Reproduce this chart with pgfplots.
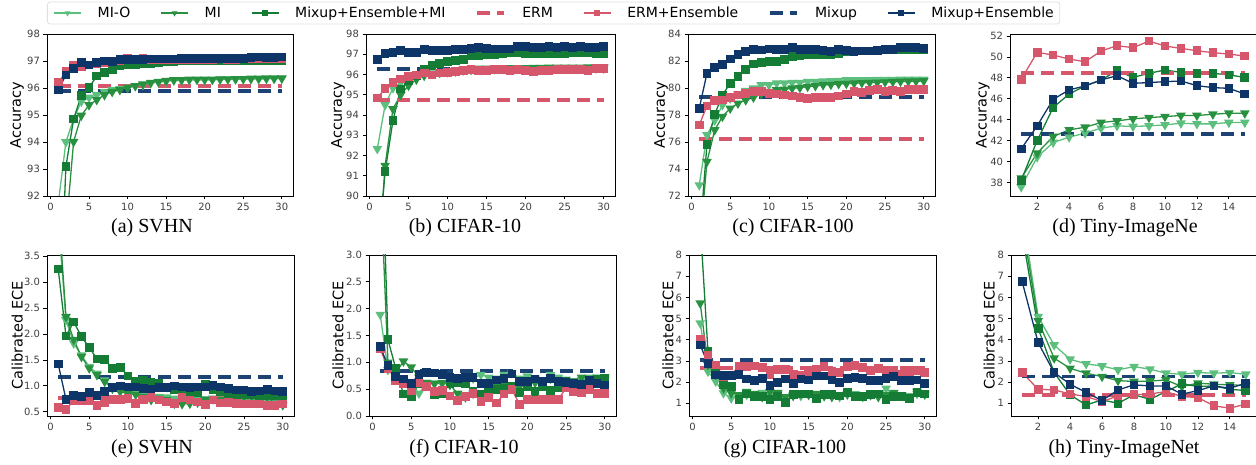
\documentclass[border=0pt]{standalone}
\usepackage{fontspec}
\setmainfont{DejaVu Sans}
\newfontfamily\capfont{Liberation Serif}
\usepackage{pgfplots}
\usepackage{pgfplotstable}
\pgfplotsset{compat=1.18}

\definecolor{cmio}{HTML}{5CBF7D}
\definecolor{cmi}{HTML}{28913F}
\definecolor{cmemi}{HTML}{157C36}
\definecolor{cerm}{HTML}{D6566B}
\definecolor{cmix}{HTML}{1D4274}
\definecolor{cmixe}{HTML}{0E3568}

% SVHN accuracy
\pgfplotstableread{
e mio mi memi erme mixe
1 91.7 85 86 96.2 95.93
2 94.0 90.7 93.09 96.6 96.48
3 94.85 94.01 94.85 96.85 96.73
4 95.5 94.98 95.72 96.8 96.94
5 95.65 95.37 96.02 96.85 96.85
6 95.74 95.56 96.44 96.9 96.95
7 95.86 95.74 96.58 96.95 97.0
8 95.93 95.86 96.69 97.0 96.97
9 95.97 95.93 96.81 97.0 97.05
10 96.02 96.01 96.85 97.1 97.05
11 96.07 96.08 96.85 97.05 97.05
12 96.12 96.14 96.9 97.1 97.05
13 96.18 96.2 96.92 97.05 97.07
14 96.22 96.23 96.95 97.05 97.07
15 96.25 96.27 96.97 97.05 97.07
16 96.28 96.3 96.98 97.05 97.07
17 96.28 96.3 97.0 97.05 97.08
18 96.3 96.32 97.0 97.05 97.08
19 96.3 96.32 97.0 97.05 97.08
20 96.3 96.32 97.0 97.05 97.08
21 96.3 96.32 97.0 97.05 97.08
22 96.32 96.33 97.0 97.1 97.08
23 96.32 96.33 97.0 97.05 97.08
24 96.32 96.34 97.0 97.05 97.1
25 96.33 96.34 97.0 97.1 97.1
26 96.33 96.35 97.02 97.1 97.12
27 96.33 96.35 97.02 97.1 97.15
28 96.34 96.36 97.02 97.1 97.12
29 96.34 96.36 97.03 97.1 97.12
30 96.35 96.36 97.03 97.1 97.15
}\dA

% CIFAR-10 accuracy
\pgfplotstableread{
e mio mi memi erme mixe
1 92.33 86 86.8 94.84 96.75
2 94.5 91.5 91.2 95.3 97.05
3 95.33 94.3 93.72 95.6 97.1
4 95.6 95.0 95.28 95.77 97.18
5 95.75 95.45 95.69 95.9 97.1
6 95.85 95.75 95.93 95.98 97.1
7 95.95 95.95 96.23 96.07 97.25
8 96.05 96.05 96.43 95.98 97.18
9 96.1 96.1 96.56 96.07 97.18
10 96.12 96.15 96.64 96.11 97.2
11 96.15 96.2 96.69 96.15 97.25
12 96.2 96.25 96.75 96.18 97.25
13 96.22 96.28 96.93 96.23 97.3
14 96.25 96.3 96.93 96.2 97.33
15 96.25 96.3 96.97 96.2 97.3
16 96.27 96.32 97.0 96.23 97.26
17 96.27 96.32 97.05 96.23 97.26
18 96.28 96.33 97.08 96.2 97.26
19 96.28 96.33 97.1 96.26 97.38
20 96.28 96.33 97.05 96.2 97.38
21 96.3 96.34 97.05 96.15 97.33
22 96.3 96.34 97.05 96.2 97.35
23 96.3 96.35 97.05 96.2 97.38
24 96.3 96.35 97.05 96.26 97.33
25 96.3 96.35 97.05 96.26 97.38
26 96.3 96.35 97.08 96.26 97.35
27 96.3 96.35 97.08 96.23 97.38
28 96.3 96.36 97.08 96.2 97.33
29 96.3 96.36 97.05 96.28 97.35
30 96.3 96.36 97.05 96.28 97.38
}\dB

% CIFAR-100 accuracy
\pgfplotstableread{
e mio mi memi erme mixe
1 72.81 68 68.5 77.26 78.49
2 76.52 74.54 75.83 78.67 81.09
3 77.6 76.89 78.05 79.06 81.5
4 78.74 77.88 79.48 79.1 81.75
5 79.23 78.49 80.35 79.3 82.15
6 79.56 78.86 80.84 79.48 82.5
7 79.8 79.1 81.38 79.6 82.7
8 79.98 79.3 81.78 79.73 82.86
9 80.22 79.56 81.9 79.73 82.82
10 80.22 79.73 81.95 79.6 82.89
11 80.35 79.85 81.95 79.56 82.86
12 80.35 79.9 82.12 79.48 82.86
13 80.4 79.98 82.32 79.4 83.0
14 80.4 80.02 82.4 79.3 82.86
15 80.47 80.1 82.44 79.23 82.86
16 80.47 80.15 82.44 79.28 82.86
17 80.5 80.22 82.49 79.3 82.77
18 80.52 80.25 82.49 79.28 82.7
19 80.55 80.3 82.57 79.4 82.86
20 80.6 80.32 82.69 79.56 82.77
21 80.6 80.35 82.74 79.73 82.7
22 80.6 80.38 82.74 79.65 82.75
23 80.6 80.4 82.74 79.8 82.75
24 80.62 80.42 82.77 79.9 82.77
25 80.62 80.44 82.81 79.73 82.86
26 80.62 80.46 82.81 79.8 82.86
27 80.63 80.48 82.86 79.73 83.0
28 80.63 80.5 82.86 79.9 83.0
29 80.64 80.5 82.86 79.9 83.0
30 80.64 80.52 82.86 79.9 82.95
}\dC

% Tiny-ImageNet accuracy
\pgfplotstableread{
e mio mi memi erme mixe
1 37.56 38.41 38.19 47.86 41.21
2 40.42 40.8 42.0 50.44 43.4
3 41.82 42.39 45.16 50.19 45.95
4 42.33 43.03 46.46 49.8 46.85
5 42.71 43.28 47.23 49.55 47.23
6 43.19 43.73 47.8 50.57 47.8
7 43.41 43.89 48.69 51.08 48.21
8 43.35 44.08 48.05 50.89 47.48
9 43.41 44.2 48.44 51.52 47.55
10 43.5 44.3 48.75 51.05 47.64
11 43.66 44.4 48.53 50.82 47.7
12 43.6 44.4 48.44 50.6 47.26
13 43.6 44.52 48.44 50.41 47.07
14 43.73 44.62 48.28 50.28 47.0
15 43.73 44.62 48.05 50.09 46.46
}\dD

% SVHN ECE
\pgfplotstableread{
e mio mi memi erme mixe
1 4.2 4.5 3.25 0.58 1.42
2 2.27 2.33 1.96 0.55 0.74
3 1.82 1.89 2.23 0.71 0.82
4 1.59 1.56 1.95 0.71 0.79
5 1.37 1.34 1.74 0.71 0.87
6 1.24 1.21 1.52 0.62 0.82
7 1.11 1.08 1.51 0.67 0.89
8 0.98 0.95 1.34 0.74 0.97
9 0.93 0.89 1.36 0.74 1.0
10 0.89 0.85 1.19 0.76 0.98
11 0.85 0.83 1.08 0.66 0.98
12 0.82 0.79 1.1 0.74 0.95
13 0.79 0.73 1.06 0.78 0.94
14 0.79 0.76 1.05 0.73 0.97
15 0.78 0.73 0.98 0.69 0.97
16 0.76 0.66 0.92 0.66 1.0
17 0.76 0.65 0.89 0.77 0.98
18 0.75 0.66 0.87 0.73 0.97
19 0.75 0.68 0.87 0.69 0.98
20 0.75 0.73 1.03 0.64 0.98
21 0.74 0.76 0.93 0.73 1.01
22 0.74 0.73 0.89 0.67 0.98
23 0.74 0.74 0.85 0.68 0.95
24 0.74 0.76 0.82 0.66 0.92
25 0.74 0.79 0.83 0.65 0.92
26 0.74 0.79 0.83 0.65 0.89
27 0.73 0.79 0.82 0.65 0.9
28 0.73 0.79 0.81 0.62 0.93
29 0.73 0.66 0.81 0.62 0.9
30 0.73 0.63 0.82 0.65 0.89
}\dE

% CIFAR-10 ECE
\pgfplotstableread{
e mio mi memi erme mixe
1 1.89 4.5 6.0 1.25 1.29
2 0.86 1.0 1.42 0.89 0.94
3 0.75 0.8 0.89 0.66 0.74
4 0.65 1.02 0.41 0.61 0.69
5 0.6 0.91 0.36 0.47 0.61
6 0.42 0.72 0.6 0.62 0.77
7 0.62 0.62 0.55 0.55 0.81
8 0.61 0.6 0.39 0.46 0.8
9 0.6 0.62 0.41 0.47 0.77
10 0.65 0.58 0.6 0.37 0.72
11 0.7 0.42 0.62 0.29 0.7
12 0.72 0.35 0.61 0.36 0.72
13 0.7 0.42 0.45 0.42 0.72
14 0.77 0.4 0.4 0.27 0.61
15 0.72 0.48 0.46 0.35 0.6
16 0.7 0.55 0.49 0.24 0.67
17 0.77 0.58 0.52 0.41 0.7
18 0.8 0.52 0.55 0.49 0.78
19 0.7 0.55 0.44 0.22 0.64
20 0.74 0.6 0.55 0.31 0.64
21 0.7 0.62 0.46 0.3 0.69
22 0.65 0.6 0.55 0.31 0.64
23 0.77 0.7 0.47 0.31 0.7
24 0.72 0.65 0.52 0.31 0.64
25 0.68 0.62 0.64 0.52 0.62
26 0.65 0.65 0.61 0.46 0.6
27 0.68 0.72 0.55 0.44 0.59
28 0.72 0.7 0.67 0.5 0.66
29 0.7 0.72 0.69 0.42 0.61
30 0.68 0.72 0.7 0.42 0.58
}\dF

% CIFAR-100 ECE
\pgfplotstableread{
e mio mi memi erme mixe
1 4.78 5.72 9.5 4.02 3.75
2 2.5 2.81 3.44 3.28 2.86
3 2.03 2.34 2.5 2.81 2.34
4 1.48 1.71 1.87 2.26 2.3
5 1.24 1.48 1.79 2.34 2.3
6 1.3 1.4 1.19 2.76 2.35
7 1.4 1.55 1.44 2.73 2.14
8 1.35 1.45 1.32 2.76 2.07
9 1.5 1.3 1.32 2.69 2.18
10 1.35 1.55 1.19 2.37 1.84
11 1.45 1.5 1.32 2.61 1.98
12 1.3 1.3 1.05 2.58 2.14
13 1.4 1.35 1.4 2.37 1.92
14 1.35 1.45 1.44 2.3 2.14
15 1.45 1.4 1.44 2.5 2.1
16 1.3 1.45 1.24 2.6 2.29
17 1.35 1.35 1.4 2.75 2.29
18 1.4 1.3 1.4 2.5 2.1
19 1.3 1.4 1.35 2.45 1.98
20 1.4 1.45 1.51 2.75 2.18
21 1.45 1.4 1.32 2.8 2.23
22 1.3 1.35 1.32 2.7 2.18
23 1.4 1.4 1.4 2.55 2.07
24 1.35 1.3 1.44 2.65 2.06
25 1.7 1.4 1.19 2.5 2.18
26 1.35 1.5 1.32 2.55 2.26
27 1.4 1.4 1.32 2.35 2.07
28 1.35 1.3 1.24 2.4 2.07
29 1.45 1.55 1.51 2.55 2.1
30 1.4 1.45 1.44 2.45 1.95
}\dG

% Tiny-ImageNet ECE
\pgfplotstableread{
e mio mi memi erme mixe
1 10 9.5 9 2.45 6.74
2 5.09 4.89 4.54 1.66 3.86
3 3.75 3.13 2.45 1.63 2.45
4 3.08 2.65 1.4 1.44 1.9
5 2.86 2.42 0.92 1.32 1.51
6 2.76 2.26 1.16 1.08 1.13
7 2.58 2.07 1.0 1.35 1.63
8 2.73 2.03 1.4 1.4 1.87
9 2.61 2.05 1.19 1.44 1.82
10 2.42 2.1 1.55 1.55 1.82
11 2.37 1.79 1.92 1.32 1.43
12 2.45 1.95 1.79 1.27 1.6
13 2.42 1.9 1.82 0.88 1.82
14 2.45 1.87 1.66 0.77 1.71
15 2.37 1.84 1.6 0.96 1.95
}\dH

\pgfplotsset{
  panel/.style={
    scale only axis, anchor=south west,
    axis line style={line width=0.9pt, black},
    tick align=outside, xtick pos=left, ytick pos=left,
    major tick length=3.5pt,
    tick style={line width=0.8pt, black},
    tick label style={font=\fontsize{10}{11}\selectfont, text=black!75},
    /pgf/number format/assume math mode=true,
  },
  ep30/.style={xmin=-0.45, xmax=31.45, xtick={0,5,...,30}},
  ep15/.style={xmin=0.3, xmax=15.7, xtick={2,4,...,14}},
  ylab/.style 2 args={ylabel={#1},
    ylabel style={at={(axis description cs:#2,0.5)}, anchor=center,
      font=\fontsize{14.5}{16}\selectfont}},
  mio/.style={color=cmio, line width=1.3pt, mark=triangle*, mark size=4.3pt, mark options={rotate=180, solid}},
  mi/.style={color=cmi, line width=1.3pt, mark=triangle*, mark size=4.3pt, mark options={rotate=180, solid}},
  memi/.style={color=cmemi, line width=1.3pt, mark=square*, mark size=3.7pt, mark options={solid}},
  erm/.style={color=cerm, line width=3.8pt, dash pattern=on 13pt off 7pt, no marks},
  erme/.style={color=cerm, line width=1.3pt, mark=square*, mark size=3.7pt, mark options={solid}},
  mix/.style={color=cmix, line width=3.8pt, dash pattern=on 13pt off 7pt, no marks},
  mixe/.style={color=cmixe, line width=1.3pt, mark=square*, mark size=3.7pt, mark options={solid}},
}

\newcommand{\subcap}[3]{\node[font=\capfont\fontsize{20}{22}\selectfont, anchor=base] at (#1pt,#2pt) {#3};}

\begin{document}
\begin{tikzpicture}
\useasboundingbox (0,0) rectangle (1256pt,465pt);

% (a)
\begin{axis}[panel, ep30, at={(47pt,269pt)}, width=246pt, height=162pt,
  ymin=92, ymax=98, ytick={92,93,...,98}, ylab={Accuracy}{-0.122},
  legend columns=7,
  legend style={at={(0,1.1296)}, anchor=west, draw=black!12, line width=0.8pt,
    rounded corners=3pt, font=\fontsize{14}{16}\selectfont,
    inner xsep=6pt, inner ysep=4pt, nodes={inner xsep=0pt, inner ysep=1pt},
    /tikz/every odd column/.append style={column sep=16pt},
    /tikz/every even column/.append style={column sep=30pt}},
  legend image code/.code={\draw[mark repeat=2, mark phase=2, #1] plot coordinates {(0pt,0pt) (13.5pt,0pt) (27pt,0pt)};},
  legend image post style={mark size=2.2pt, sharp corners},
]
\addplot[mio] table[x=e, y=mio] {\dA}; \addlegendentry{MI-O}
\addplot[mi] table[x=e, y=mi] {\dA}; \addlegendentry{MI}
\addplot[memi] table[x=e, y=memi] {\dA}; \addlegendentry{Mixup+Ensemble+MI}
\addplot[erm] coordinates {(1,96.07) (30,96.07)}; \addlegendentry{ERM}
\addplot[erme] table[x=e, y=erme] {\dA}; \addlegendentry{ERM+Ensemble}
\addplot[mix] coordinates {(1,95.9) (30,95.9)}; \addlegendentry{Mixup}
\addplot[mixe] table[x=e, y=mixe] {\dA}; \addlegendentry{Mixup+Ensemble}
\end{axis}

% (b)
\begin{axis}[panel, ep30, at={(366pt,269pt)}, width=249pt, height=162pt,
  ymin=90, ymax=98, ytick={90,91,...,98}, ylab={Accuracy}{-0.112}]
\addplot[mio] table[x=e, y=mio] {\dB};
\addplot[mi] table[x=e, y=mi] {\dB};
\addplot[memi] table[x=e, y=memi] {\dB};
\addplot[erm] coordinates {(1,94.75) (30,94.75)};
\addplot[erme] table[x=e, y=erme] {\dB};
\addplot[mix] coordinates {(1,96.26) (30,96.26)};
\addplot[mixe] table[x=e, y=mixe] {\dB};
\end{axis}

% (c)
\begin{axis}[panel, ep30, at={(688pt,269pt)}, width=247pt, height=162pt,
  ymin=72, ymax=84, ytick={72,74,...,84}, ylab={Accuracy}{-0.109}]
\addplot[mio] table[x=e, y=mio] {\dC};
\addplot[mi] table[x=e, y=mi] {\dC};
\addplot[memi] table[x=e, y=memi] {\dC};
\addplot[erm] coordinates {(1,76.22) (30,76.22)};
\addplot[erme] table[x=e, y=erme] {\dC};
\addplot[mix] coordinates {(1,79.36) (30,79.36)};
\addplot[mixe] table[x=e, y=mixe] {\dC};
\end{axis}

% (d)
\begin{axis}[panel, ep15, at={(1010pt,269pt)}, width=246pt, height=162pt,
  ymin=36.7, ymax=52.2, ytick={38,40,...,52}, ylab={Accuracy}{-0.110}]
\addplot[mio] table[x=e, y=mio] {\dD};
\addplot[mi] table[x=e, y=mi] {\dD};
\addplot[memi] table[x=e, y=memi] {\dD};
\addplot[erm] coordinates {(1,48.44) (15,48.44)};
\addplot[erme] table[x=e, y=erme] {\dD};
\addplot[mix] coordinates {(1,42.61) (15,42.61)};
\addplot[mixe] table[x=e, y=mixe] {\dD};
\end{axis}

% (e)
\begin{axis}[panel, ep30, at={(47pt,49pt)}, width=247pt, height=161pt,
  ymin=0.42, ymax=3.52, ytick={0.5,1.0,...,3.5}, ylab={Calibrated ECE}{-0.121},
  yticklabel style={/pgf/number format/.cd, fixed, fixed zerofill, precision=1}]
\addplot[mio] table[x=e, y=mio] {\dE};
\addplot[mi] table[x=e, y=mi] {\dE};
\addplot[memi] table[x=e, y=memi] {\dE};
\addplot[erm] coordinates {(1,0.77) (30,0.77)};
\addplot[erme] table[x=e, y=erme] {\dE};
\addplot[mix] coordinates {(1,1.17) (30,1.17)};
\addplot[mixe] table[x=e, y=mixe] {\dE};
\end{axis}

% (f)
\begin{axis}[panel, ep30, at={(369pt,49pt)}, width=247pt, height=161pt,
  ymin=0, ymax=3, ytick={0,0.5,...,3}, ylab={Calibrated ECE}{-0.126},
  yticklabel style={/pgf/number format/.cd, fixed, fixed zerofill, precision=1}]
\addplot[mio] table[x=e, y=mio] {\dF};
\addplot[mi] table[x=e, y=mi] {\dF};
\addplot[memi] table[x=e, y=memi] {\dF};
\addplot[erm] coordinates {(1,0.83) (30,0.83)};
\addplot[erme] table[x=e, y=erme] {\dF};
\addplot[mix] coordinates {(1,0.84) (30,0.84)};
\addplot[mixe] table[x=e, y=mixe] {\dF};
\end{axis}

% (g)
\begin{axis}[panel, ep30, at={(689pt,49pt)}, width=247pt, height=161pt,
  ymin=0.4, ymax=8, ytick={1,2,...,8}, ylab={Calibrated ECE}{-0.085}]
\addplot[mio] table[x=e, y=mio] {\dG};
\addplot[mi] table[x=e, y=mi] {\dG};
\addplot[memi] table[x=e, y=memi] {\dG};
\addplot[erm] coordinates {(1,2.65) (30,2.65)};
\addplot[erme] table[x=e, y=erme] {\dG};
\addplot[mix] coordinates {(1,3.05) (30,3.05)};
\addplot[mixe] table[x=e, y=mixe] {\dG};
\end{axis}

% (h)
\begin{axis}[panel, ep15, at={(1011pt,49pt)}, width=246pt, height=161pt,
  ymin=0.4, ymax=8, ytick={1,2,...,8}, ylab={Calibrated ECE}{-0.089}]
\addplot[mio] table[x=e, y=mio] {\dH};
\addplot[mi] table[x=e, y=mi] {\dH};
\addplot[memi] table[x=e, y=memi] {\dH};
\addplot[erm] coordinates {(1,1.4) (15,1.4)};
\addplot[erme] table[x=e, y=erme] {\dH};
\addplot[mix] coordinates {(1,2.26) (15,2.26)};
\addplot[mixe] table[x=e, y=mixe] {\dH};
\end{axis}

\subcap{152}{232}{(a) SVHN}
\subcap{465}{232}{(b) CIFAR-10}
\subcap{793}{232}{(c) CIFAR-100}
\subcap{1125}{232}{(d) Tiny-ImageNe}
\subcap{152}{11}{(e) SVHN}
\subcap{464}{11}{(f) CIFAR-10}
\subcap{785}{11}{(g) CIFAR-100}
\subcap{1124}{11}{(h) Tiny-ImageNet}
\end{tikzpicture}
\end{document}
